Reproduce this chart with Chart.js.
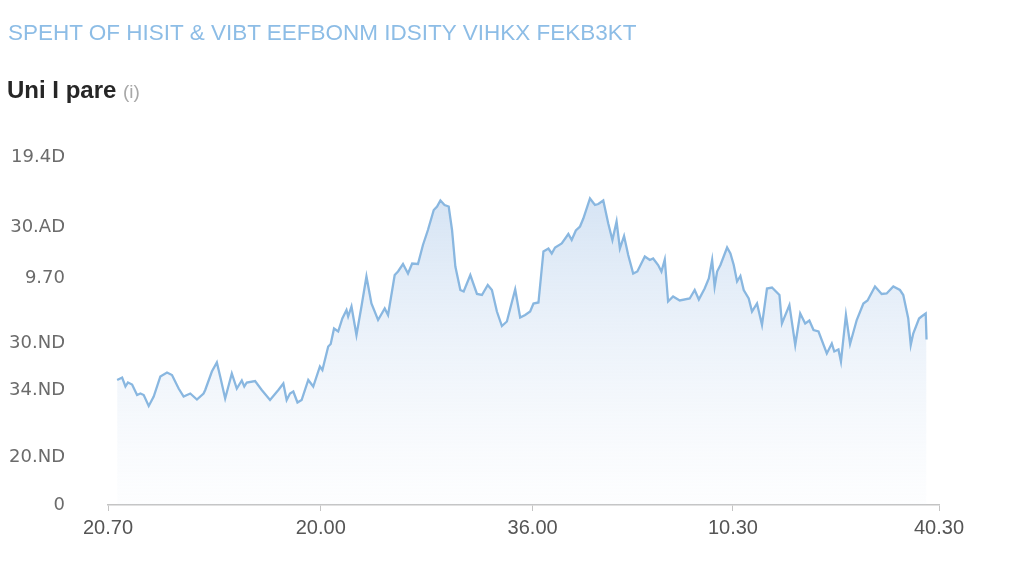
<!DOCTYPE html>
<html lang="en">
<head>
  <meta charset="UTF-8">
  <title>Uni I pare</title>
  <script src="https://cdn.jsdelivr.net/npm/chart.js@4.4.1/dist/chart.umd.min.js"></script>
  <style>
    body { margin: 0; background: #fff; }
    #wrap { position: relative; width: 1024px; height: 576px; overflow: hidden; }
    #chart { position: absolute; left: 0; top: 0; }
    .title { position: absolute; left: 8px; top: 21px; font: 22.5px/24px "Liberation Sans", Arial, sans-serif; color: #8dbde6; white-space: nowrap; }
    .sub { position: absolute; left: 7px; top: 77px; font: bold 24px/26px "Liberation Sans", Arial, sans-serif; color: #262626; white-space: nowrap; }
    .sub span { font-weight: normal; font-size: 19px; color: #a8a8a8; }
  </style>
</head>
<body>
<div id="wrap">
  <canvas id="chart" width="1024" height="576"></canvas>
  <div class="title">SPEHT OF HISIT &amp; VIBT EEFBONM IDSITY VIHKX FEKB3KT</div>
  <div class="sub">Uni I pare <span>(i)</span></div>
</div>
<script>
  // tick positions / labels
  const xTickValues = [0, 25.6, 51.1, 75.2, 100];
  const xTickLabels = ['20.70', '20.00', '36.00', '10.30', '40.30'];
  const yTickValues = [0, 9.6, 23, 32.4, 45.4, 55.6, 69.6];
  const yTickLabels = ['0', '20.ND', '34.ND', '30.ND', '9.70', '30.AD', '19.4D'];

  const seriesX = [1.1,1.7,2.1,2.4,2.9,3.5,3.9,4.3,4.9,5.5,
    6.3,7.1,7.7,8.5,9.1,9.9,10.7,11.5,11.7,12.5,
    13.1,13.5,14.1,14.9,15.5,16.1,16.4,16.7,17.7,18.5,
    19.5,20.5,21.1,21.5,21.9,22.3,22.8,23.3,24.1,24.7,
    25.5,25.8,26.5,26.8,27.2,27.7,28.2,28.7,28.9,29.3,
    29.9,30.5,31.1,31.7,32.5,33.3,33.7,34.5,34.9,35.5,
    36.1,36.6,37.3,37.9,38.5,39.2,39.6,40.0,40.5,41.0,
    41.4,41.8,42.4,42.8,43.6,44.4,45.0,45.7,46.2,46.8,
    47.4,48.0,49.0,49.6,50.2,50.8,51.2,51.8,52.4,53.0,
    53.4,53.8,54.6,55.4,55.8,56.3,56.8,57.2,58.0,58.6,
    59.0,59.6,60.2,60.7,61.2,61.6,62.1,62.6,63.2,63.7,
    64.6,65.2,65.6,66.2,66.6,67.0,67.4,68.0,68.8,70.0,
    70.6,71.1,71.8,72.3,72.7,73.0,73.3,73.7,74.5,74.9,
    75.3,75.7,76.1,76.5,77.1,77.5,78.1,78.7,79.3,79.9,
    80.8,81.1,82.0,82.7,83.3,83.9,84.4,84.9,85.5,86.5,
    87.1,87.4,87.9,88.2,88.8,89.3,90.1,90.9,91.4,92.3,
    93.1,93.7,94.5,95.3,95.7,96.3,96.6,96.9,97.6,97.9,
    98.4,98.5];
  const seriesY = [25.0,25.5,23.7,24.5,24.1,22.0,22.3,22.0,19.8,21.7,
    25.7,26.5,26.0,23.3,21.7,22.3,21.1,22.3,23.0,26.7,
    28.5,25.7,21.3,26.3,23.3,24.9,23.7,24.5,24.8,23.0,
    21.0,23.0,24.3,21.0,22.3,22.7,20.5,21.0,25.0,23.7,
    27.7,27.0,31.7,32.2,35.3,34.7,37.3,39.0,37.7,39.7,
    34.0,39.7,45.7,40.3,37.0,39.3,38.0,46.0,46.7,48.2,
    46.3,48.3,48.2,52.0,55.0,59.0,59.7,60.9,60.0,59.7,
    55.0,47.7,43.0,42.7,46.0,42.2,42.0,44.0,43.0,38.7,
    35.8,36.7,43.1,37.5,38.0,38.7,40.3,40.5,50.7,51.3,
    50.3,51.5,52.3,54.2,53.0,54.9,55.7,57.3,61.3,60.0,
    60.2,60.9,56.3,53.0,56.7,51.3,53.8,50.0,46.3,46.7,
    49.7,49.0,49.3,48.0,46.7,49.1,40.7,41.7,40.9,41.3,
    43.0,41.1,43.3,45.3,49.0,43.7,46.7,48.0,51.5,50.3,
    48.0,44.7,45.8,43.0,41.3,38.7,40.3,36.0,43.3,43.5,
    42.0,36.3,40.0,32.0,38.3,36.3,36.9,35.0,34.7,30.3,
    32.3,30.7,31.1,28.7,38.0,32.2,37.0,40.3,40.9,43.7,
    42.2,42.3,43.7,43.0,42.0,37.3,32.0,34.3,37.3,37.7,
    38.3,33.1];

  const points = seriesX.map((x, i) => ({ x, y: seriesY[i] }));

  new Chart(document.getElementById('chart'), {
    type: 'line',
    data: {
      datasets: [{
        data: points,
        borderColor: '#89b7e0',
        borderWidth: 2.3,
        pointRadius: 0,
        tension: 0,
        fill: 'start',
        backgroundColor: (ctx) => {
          const area = ctx.chart.chartArea;
          if (!area) return 'rgba(180,205,235,0.3)';
          const g = ctx.chart.ctx.createLinearGradient(0, area.top + 55, 0, area.bottom);
          g.addColorStop(0, 'rgba(168,198,232,0.48)');
          g.addColorStop(0.55, 'rgba(190,212,238,0.24)');
          g.addColorStop(1, 'rgba(215,228,244,0.05)');
          return g;
        }
      }]
    },
    options: {
      responsive: false,
      animation: false,
      layout: { padding: { left: 0, top: 140, right: 85, bottom: 0 } },
      plugins: { legend: { display: false }, tooltip: { enabled: false } },
      scales: {
        x: {
          type: 'linear', min: 0, max: 100,
          afterBuildTicks: (s) => { s.ticks = xTickValues.map(v => ({ value: v })); },
          afterFit: (s) => { s.height = 71; },
          grid: { drawOnChartArea: false, drawTicks: true, tickLength: 6, color: '#c4c4c4' },
          border: { color: '#c4c4c4', width: 1.5 },
          ticks: {
            autoSkip: false, maxRotation: 0, padding: 5,
            color: '#555', font: { family: 'Liberation Sans', size: 20 },
            callback: (v, i) => xTickLabels[i]
          }
        },
        y: {
          type: 'linear', min: 0, max: 73,
          afterBuildTicks: (s) => { s.ticks = yTickValues.map(v => ({ value: v })); },
          afterFit: (s) => { s.width = 108; },
          grid: { display: false, drawTicks: false, tickLength: 0 },
          border: { display: false },
          ticks: {
            autoSkip: false, padding: 43,
            color: '#6b6b6b', font: { family: 'DejaVu Sans', size: 18 },
            callback: (v, i) => yTickLabels[i]
          }
        }
      }
    }
  });
</script>
</body>
</html>
